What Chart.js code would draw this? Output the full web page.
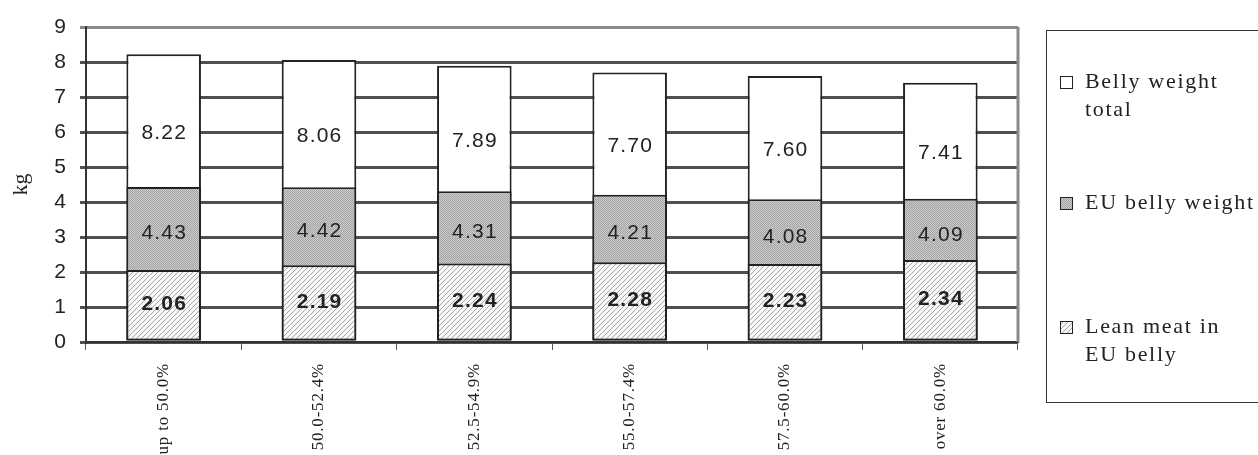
<!DOCTYPE html>
<html><head><meta charset="utf-8">
<script src="https://cdn.jsdelivr.net/npm/chart.js@4/dist/chart.umd.min.js"></script>
<style>html,body{margin:0;padding:0;background:#fff;}#wrap{width:1258px;height:455px;}</style>
</head><body><div id="wrap"><canvas id="c" width="1258" height="455"></canvas></div>
<script>
const categories = ['up to 50.0%', '50.0-52.4%', '52.5-54.9%', '55.0-57.4%', '57.5-60.0%', 'over 60.0%'];
const bellyTotal = [8.22, 8.06, 7.89, 7.70, 7.60, 7.41];
const euBelly = [4.43, 4.42, 4.31, 4.21, 4.08, 4.09];
const leanMeat = [2.06, 2.19, 2.24, 2.28, 2.23, 2.34];
const yTickValues = [0, 1, 2, 3, 4, 5, 6, 7, 8, 9];
const legendLines = [['Belly weight', 'total'], ['EU belly weight'], ['Lean meat in', 'EU belly']];
const yTitle = 'kg';

function makeHatch() {
  const c = document.createElement('canvas'); c.width = 5; c.height = 5;
  const x = c.getContext('2d');
  x.fillStyle = '#f8f8f8'; x.fillRect(0, 0, 5, 5);
  x.strokeStyle = '#a6a6a6'; x.lineWidth = 1;
  x.beginPath();
  x.moveTo(-1, 6); x.lineTo(6, -1);
  x.moveTo(-1, 1); x.lineTo(1, -1);
  x.moveTo(4, 6); x.lineTo(6, 4);
  x.stroke();
  return x.createPattern(c, 'repeat');
}
function makeStipple() {
  const c = document.createElement('canvas'); c.width = 2; c.height = 2;
  const x = c.getContext('2d');
  x.fillStyle = '#cdcdcd'; x.fillRect(0, 0, 2, 2);
  x.fillStyle = '#a2a2a2'; x.fillRect(0, 0, 1, 1); x.fillRect(1, 1, 1, 1);
  return x.createPattern(c, 'repeat');
}
const hatch = makeHatch();
const stipple = makeStipple();
const fills = ['#ffffff', stipple, hatch];

const SERIF = '"Liberation Serif", "DejaVu Serif", serif';
const SANS = '"Liberation Sans", Arial, sans-serif';

const frameAndLabels = {
  id: 'frameAndLabels',
  beforeDatasetsDraw(chart) {
    const ctx = chart.ctx, a = chart.chartArea;
    ctx.save();
    ctx.strokeStyle = '#8a8a8a'; ctx.lineWidth = 3;
    ctx.beginPath(); ctx.moveTo(a.right, a.top); ctx.lineTo(a.right, a.bottom); ctx.stroke();
    ctx.restore();
  },
  afterDatasetsDraw(chart) {
    const ctx = chart.ctx, xs = chart.scales.x, ys = chart.scales.y;
    ctx.save();
    ctx.fillStyle = '#222';
    ctx.textAlign = 'center'; ctx.textBaseline = 'middle';
    ctx.letterSpacing = '1.2px';
    const put = (txt, x, v, bold) => {
      ctx.font = (bold ? 'bold ' : '') + '21px ' + SANS;
      ctx.fillText(txt, x + 0.6, ys.getPixelForValue(v));
    };
    categories.forEach((c, i) => {
      const cx = xs.getPixelForValue(i);
      put(bellyTotal[i].toFixed(2), cx, (euBelly[i] + bellyTotal[i]) / 2 - 0.35, false);
      put(euBelly[i].toFixed(2), cx, (leanMeat[i] + euBelly[i]) / 2 - 0.15, false);
      put(leanMeat[i].toFixed(2), cx, leanMeat[i] / 2 + 0.05, true);
    });
    ctx.restore();
    ctx.letterSpacing = '0.8px';
  },
  afterDraw(chart) {
    const ctx = chart.ctx, a = chart.chartArea;
    ctx.letterSpacing = '0px';
    ctx.save();
    const bx = a.right + 28, by = 30, bw = 260, bh = 372;
    ctx.strokeStyle = '#333'; ctx.lineWidth = 1;
    ctx.strokeRect(bx + 0.5, by + 0.5, bw, bh);
    const firstLineY = [82, 203, 327];
    ctx.font = '22px ' + SERIF;
    ctx.letterSpacing = '1.7px';
    ctx.textAlign = 'left'; ctx.textBaseline = 'middle';
    legendLines.forEach((lines, k) => {
      const y0 = firstLineY[k];
      ctx.fillStyle = fills[k];
      ctx.fillRect(bx + 14, y0 - 6, 12, 12);
      ctx.strokeStyle = '#222'; ctx.lineWidth = 1;
      ctx.strokeRect(bx + 14.5, y0 - 5.5, 12, 12);
      ctx.fillStyle = '#222';
      lines.forEach((t, j) => ctx.fillText(t, bx + 39, y0 + j * 28));
    });
    ctx.restore();
    ctx.letterSpacing = '0px';
  }
};

const ds = (label, data, fill) => ({
  label, data, backgroundColor: fill, borderColor: '#222', borderWidth: 2,
  borderSkipped: false, grouped: false, barPercentage: 0.48, categoryPercentage: 1
});

new Chart(document.getElementById('c'), {
  type: 'bar',
  data: {
    labels: categories,
    datasets: [
      ds('Lean meat in EU belly', leanMeat, hatch),
      ds('EU belly weight', euBelly, stipple),
      ds('Belly weight total', bellyTotal, '#ffffff')
    ]
  },
  options: {
    responsive: false, animation: false, devicePixelRatio: 1,
    layout: { padding: { left: 0, right: 240, top: 27, bottom: 0 } },
    plugins: { legend: { display: false }, tooltip: { enabled: false } },
    scales: {
      x: {
        offset: true,
        grid: { display: true, drawOnChartArea: false, drawTicks: true, tickLength: 8, color: '#555', lineWidth: 1, offset: true },
        border: { display: true, color: '#333', width: 2 },
        ticks: { z: 1, maxRotation: 90, minRotation: 90, autoSkip: false, padding: 13, color: '#222', font: { family: SERIF, size: 17 } },
        afterFit(s) { s.height = 113; }
      },
      y: {
        min: 0, max: 9,
        afterBuildTicks(s) { s.ticks = yTickValues.map(v => ({ value: v })); },
        grid: {
          color: c => (c.tick && c.tick.value === 9) ? '#8a8a8a' : '#4f4f4f',
          lineWidth: 3, tickLength: 6
        },
        border: { display: true, color: '#333', width: 2 },
        ticks: { padding: 14, color: '#222', font: { family: SANS, size: 21 } },
        title: { display: true, text: yTitle, color: '#222', font: { family: SERIF, size: 22 }, padding: { top: 8, bottom: 0 } },
        afterFit(s) { s.width = 86; }
      }
    }
  },
  plugins: [frameAndLabels]
});
</script>
</body></html>
